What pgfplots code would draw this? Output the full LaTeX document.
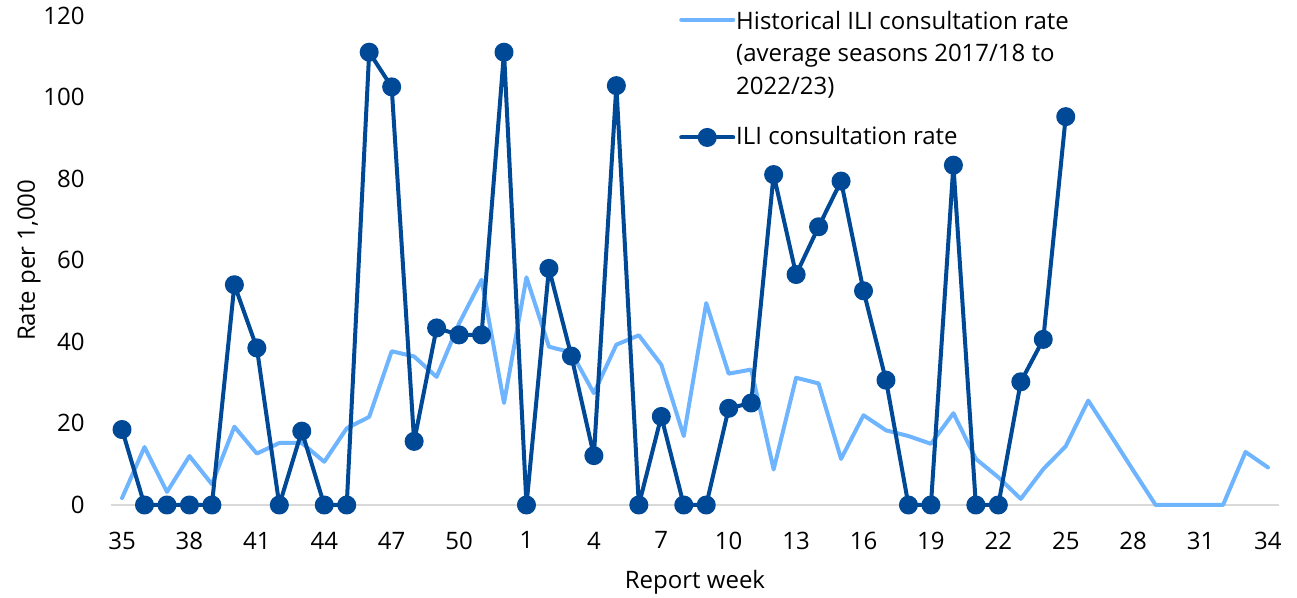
\documentclass[border=0pt]{standalone}
\usepackage{pgfplots}
\pgfplotsset{compat=1.18}
\usepackage{fontspec}
\setmainfont{Open Sans}
\definecolor{histblue}{RGB}{110,180,255}
\definecolor{ilblue}{RGB}{0,73,150}
\definecolor{basegray}{RGB}{217,217,217}

\pgfplotstableread{
x y
0 1.7
1 14.2
2 3.2
3 12.0
4 5.1
5 19.2
6 12.6
7 15.2
8 15.2
9 10.6
10 18.8
11 21.6
12 37.7
13 36.4
14 31.4
15 44.5
16 55.2
17 25.0
18 55.8
19 38.8
20 37.4
21 27.4
22 39.3
23 41.6
24 34.4
25 16.9
26 49.5
27 32.2
28 33.2
29 8.7
30 31.2
31 29.8
32 11.3
33 22.0
34 18.3
35 16.9
36 15.0
37 22.5
38 11.3
39 6.8
40 1.5
41 8.8
42 14.4
43 25.6
44 17.1
45 8.5
46 0
47 0
48 0
49 0
50 13.0
51 9.2
}\histtable

\pgfplotstableread{
x y
0 18.5
1 0
2 0
3 0
4 0
5 54.0
6 38.5
7 0
8 18.1
9 0
10 0
11 111.0
12 102.5
13 15.6
14 43.4
15 41.7
16 41.7
17 111.0
18 0
19 58.0
20 36.5
21 12.1
22 102.8
23 0
24 21.7
25 0
26 0
27 23.7
28 25.0
29 81.0
30 56.5
31 68.2
32 79.4
33 52.5
34 30.6
35 0
36 0
37 83.3
38 0
39 0
40 30.2
41 40.6
42 95.2
}\ilitable

\begin{document}
\fontsize{12pt}{16.25pt}\selectfont
\begin{tikzpicture}[font=\fontsize{12pt}{16.25pt}\selectfont]
\useasboundingbox (0,0) rectangle (648.5pt,299pt);
\begin{axis}[
  at={(55.4pt,46.5pt)}, anchor=south west,
  scale only axis, width=584.2pt, height=244.75pt,
  xmin=-0.5, xmax=51.5, ymin=0, ymax=120,
  axis line style={draw=none},
  xtick={0,3,...,51},
  xticklabels={35,38,41,44,47,50,1,4,7,10,13,16,19,22,25,28,31,34},
  ytick={0,20,...,120},
  major tick length=0pt,
  /pgf/number format/assume math mode=true,
  yticklabel style={xshift=-8.9pt},
  xticklabel style={yshift=-9.2pt},
  xlabel={Report week}, ylabel={Rate per 1,000},
  every axis x label/.style={at={(axis description cs:0.5,-0.1696)}, anchor=base},
  every axis y label/.style={at={(axis description cs:-0.0700,0.5)}, anchor=center, rotate=90},
  clip=false,
  legend cell align=left,
  legend style={at={(0.4865,1.0186)}, anchor=north west, draw=none, fill=none,
    inner sep=0pt, outer sep=0pt, row sep=46.9pt, column sep=0.5pt,
    nodes={inner sep=0pt, outer sep=0pt}},
  legend image code/.code={\draw[mark repeat=2, mark phase=2, #1] plot coordinates {(0pt,0pt) (13pt,0pt) (26pt,0pt)};},
]
\addplot[basegray, line width=1pt, forget plot] coordinates {(-0.5,0) (51.5,0)};
\addplot[histblue, line width=2pt, line join=round, line cap=round, mark=none] table[x=x,y=y] {\histtable};
\addlegendentry{\begin{tabular}[t]{@{}l@{}}Historical ILI consultation rate\\(average seasons 2017/18 to\\2022/23)\end{tabular}}
\addplot[ilblue, line width=2pt, line join=round, line cap=round, mark=*, mark size=3.75pt, mark options={solid, draw=none, fill=ilblue}] table[x=x,y=y] {\ilitable};
\addlegendentry{ILI consultation rate}
\end{axis}
\end{tikzpicture}
\end{document}
